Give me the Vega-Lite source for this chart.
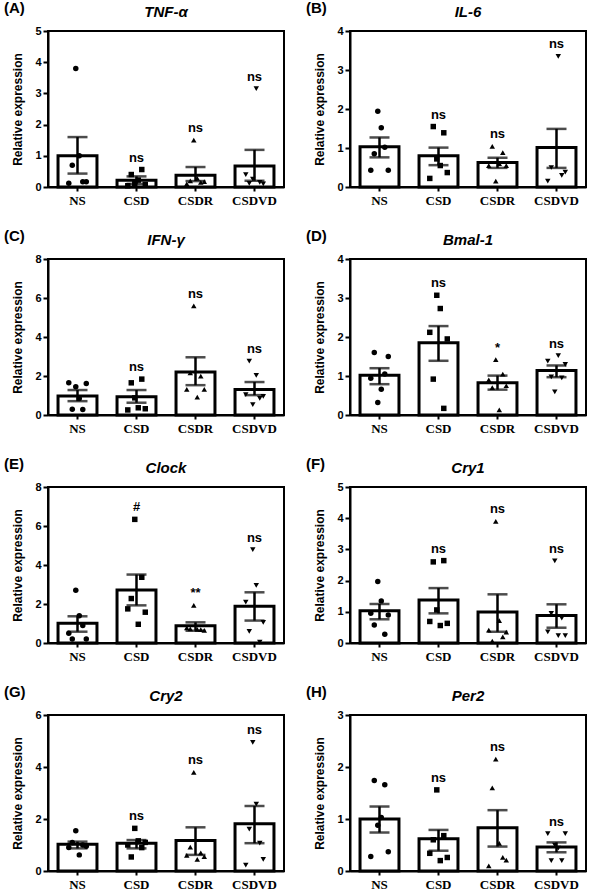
{
"$schema": "https://vega.github.io/schema/vega-lite/v6.json",
"padding": {"left": 3, "top": 1, "right": 0, "bottom": 0},
"columns": 2,
"spacing": {"row": 21, "column": 20},
"datasets": {
"bars": [
{"gene":"TNF-α","group":"NS","mean":1.0,"lo":0.43,"hi":1.6},
{"gene":"TNF-α","group":"CSD","mean":0.22,"lo":0.1,"hi":0.34},
{"gene":"TNF-α","group":"CSDR","mean":0.38,"lo":0.19,"hi":0.64},
{"gene":"TNF-α","group":"CSDVD","mean":0.67,"lo":0.2,"hi":1.19},
{"gene":"IL-6","group":"NS","mean":1.03,"lo":0.76,"hi":1.27},
{"gene":"IL-6","group":"CSD","mean":0.8,"lo":0.56,"hi":1.01},
{"gene":"IL-6","group":"CSDR","mean":0.63,"lo":0.49,"hi":0.75},
{"gene":"IL-6","group":"CSDVD","mean":1.01,"lo":0.49,"hi":1.49},
{"gene":"IFN-γ","group":"NS","mean":0.97,"lo":0.71,"hi":1.28},
{"gene":"IFN-γ","group":"CSD","mean":0.94,"lo":0.63,"hi":1.28},
{"gene":"IFN-γ","group":"CSDR","mean":2.21,"lo":1.53,"hi":2.96},
{"gene":"IFN-γ","group":"CSDVD","mean":1.31,"lo":1.02,"hi":1.69},
{"gene":"Bmal-1","group":"NS","mean":1.02,"lo":0.79,"hi":1.2},
{"gene":"Bmal-1","group":"CSD","mean":1.85,"lo":1.39,"hi":2.28},
{"gene":"Bmal-1","group":"CSDR","mean":0.83,"lo":0.65,"hi":1.01},
{"gene":"Bmal-1","group":"CSDVD","mean":1.14,"lo":0.97,"hi":1.27},
{"gene":"Clock","group":"NS","mean":1.01,"lo":0.58,"hi":1.37},
{"gene":"Clock","group":"CSD","mean":2.72,"lo":1.93,"hi":3.51},
{"gene":"Clock","group":"CSDR","mean":0.89,"lo":0.63,"hi":1.06},
{"gene":"Clock","group":"CSDVD","mean":1.88,"lo":1.15,"hi":2.6},
{"gene":"Cry1","group":"NS","mean":1.03,"lo":0.76,"hi":1.25},
{"gene":"Cry1","group":"CSD","mean":1.38,"lo":0.95,"hi":1.76},
{"gene":"Cry1","group":"CSDR","mean":0.99,"lo":0.36,"hi":1.56},
{"gene":"Cry1","group":"CSDVD","mean":0.88,"lo":0.49,"hi":1.24},
{"gene":"Cry2","group":"NS","mean":1.03,"lo":0.87,"hi":1.13},
{"gene":"Cry2","group":"CSD","mean":1.07,"lo":0.87,"hi":1.19},
{"gene":"Cry2","group":"CSDR","mean":1.17,"lo":0.62,"hi":1.68},
{"gene":"Cry2","group":"CSDVD","mean":1.82,"lo":1.07,"hi":2.5},
{"gene":"Per2","group":"NS","mean":1.0,"lo":0.74,"hi":1.24},
{"gene":"Per2","group":"CSD","mean":0.62,"lo":0.39,"hi":0.79},
{"gene":"Per2","group":"CSDR","mean":0.83,"lo":0.47,"hi":1.17},
{"gene":"Per2","group":"CSDVD","mean":0.46,"lo":0.36,"hi":0.55}
],
"points": [
{"gene":"TNF-α","group":"NS","rep":1,"value":0.12},{"gene":"TNF-α","group":"NS","rep":2,"value":0.7},{"gene":"TNF-α","group":"NS","rep":3,"value":3.8},{"gene":"TNF-α","group":"NS","rep":4,"value":1.0},{"gene":"TNF-α","group":"NS","rep":5,"value":0.17},{"gene":"TNF-α","group":"NS","rep":6,"value":0.17},
{"gene":"TNF-α","group":"CSD","rep":1,"value":0.04},{"gene":"TNF-α","group":"CSD","rep":2,"value":0.4},{"gene":"TNF-α","group":"CSD","rep":3,"value":0.12},{"gene":"TNF-α","group":"CSD","rep":4,"value":0.22},{"gene":"TNF-α","group":"CSD","rep":5,"value":0.56},{"gene":"TNF-α","group":"CSD","rep":6,"value":0.08},
{"gene":"TNF-α","group":"CSDR","rep":1,"value":0.1},{"gene":"TNF-α","group":"CSDR","rep":2,"value":0.2},{"gene":"TNF-α","group":"CSDR","rep":3,"value":1.5},{"gene":"TNF-α","group":"CSDR","rep":4,"value":0.28},{"gene":"TNF-α","group":"CSDR","rep":5,"value":0.15},{"gene":"TNF-α","group":"CSDR","rep":6,"value":0.17},
{"gene":"TNF-α","group":"CSDVD","rep":1,"value":0.4},{"gene":"TNF-α","group":"CSDVD","rep":2,"value":0.12},{"gene":"TNF-α","group":"CSDVD","rep":3,"value":0.25},{"gene":"TNF-α","group":"CSDVD","rep":4,"value":3.15},{"gene":"TNF-α","group":"CSDVD","rep":5,"value":0.15},{"gene":"TNF-α","group":"CSDVD","rep":6,"value":0.1},
{"gene":"IL-6","group":"NS","rep":1,"value":0.43},{"gene":"IL-6","group":"NS","rep":2,"value":0.85},{"gene":"IL-6","group":"NS","rep":3,"value":1.94},{"gene":"IL-6","group":"NS","rep":4,"value":1.52},{"gene":"IL-6","group":"NS","rep":5,"value":1.02},{"gene":"IL-6","group":"NS","rep":6,"value":0.43},
{"gene":"IL-6","group":"CSD","rep":1,"value":0.22},{"gene":"IL-6","group":"CSD","rep":2,"value":1.55},{"gene":"IL-6","group":"CSD","rep":3,"value":0.72},{"gene":"IL-6","group":"CSD","rep":4,"value":0.55},{"gene":"IL-6","group":"CSD","rep":5,"value":1.39},{"gene":"IL-6","group":"CSD","rep":6,"value":0.37},
{"gene":"IL-6","group":"CSDR","rep":1,"value":0.55},{"gene":"IL-6","group":"CSDR","rep":2,"value":1.04},{"gene":"IL-6","group":"CSDR","rep":3,"value":0.15},{"gene":"IL-6","group":"CSDR","rep":4,"value":0.6},{"gene":"IL-6","group":"CSDR","rep":5,"value":0.88},{"gene":"IL-6","group":"CSDR","rep":6,"value":0.55},
{"gene":"IL-6","group":"CSDVD","rep":1,"value":0.15},{"gene":"IL-6","group":"CSDVD","rep":2,"value":0.5},{"gene":"IL-6","group":"CSDVD","rep":4,"value":3.35},{"gene":"IL-6","group":"CSDVD","rep":5,"value":0.3},{"gene":"IL-6","group":"CSDVD","rep":6,"value":0.38},
{"gene":"IFN-γ","group":"NS","rep":1,"value":1.65},{"gene":"IFN-γ","group":"NS","rep":2,"value":0.3},{"gene":"IFN-γ","group":"NS","rep":3,"value":1.45},{"gene":"IFN-γ","group":"NS","rep":4,"value":0.85},{"gene":"IFN-γ","group":"NS","rep":5,"value":0.28},{"gene":"IFN-γ","group":"NS","rep":6,"value":1.62},
{"gene":"IFN-γ","group":"CSD","rep":1,"value":0.26},{"gene":"IFN-γ","group":"CSD","rep":2,"value":1.65},{"gene":"IFN-γ","group":"CSD","rep":3,"value":0.88},{"gene":"IFN-γ","group":"CSD","rep":4,"value":0.37},{"gene":"IFN-γ","group":"CSD","rep":5,"value":1.84},{"gene":"IFN-γ","group":"CSD","rep":6,"value":0.32},
{"gene":"IFN-γ","group":"CSDR","rep":1,"value":1.31},{"gene":"IFN-γ","group":"CSDR","rep":2,"value":2.16},{"gene":"IFN-γ","group":"CSDR","rep":3,"value":5.6},{"gene":"IFN-γ","group":"CSDR","rep":4,"value":0.92},{"gene":"IFN-γ","group":"CSDR","rep":5,"value":1.99},{"gene":"IFN-γ","group":"CSDR","rep":6,"value":1.31},
{"gene":"IFN-γ","group":"CSDVD","rep":1,"value":1.05},{"gene":"IFN-γ","group":"CSDVD","rep":2,"value":2.76},{"gene":"IFN-γ","group":"CSDVD","rep":3,"value":0.53},{"gene":"IFN-γ","group":"CSDVD","rep":4,"value":2.03},{"gene":"IFN-γ","group":"CSDVD","rep":5,"value":0.85},{"gene":"IFN-γ","group":"CSDVD","rep":6,"value":0.95},
{"gene":"Bmal-1","group":"NS","rep":1,"value":0.94},{"gene":"Bmal-1","group":"NS","rep":2,"value":1.6},{"gene":"Bmal-1","group":"NS","rep":3,"value":0.32},{"gene":"Bmal-1","group":"NS","rep":4,"value":0.66},{"gene":"Bmal-1","group":"NS","rep":5,"value":1.05},{"gene":"Bmal-1","group":"NS","rep":6,"value":1.5},
{"gene":"Bmal-1","group":"CSD","rep":1,"value":2.12},{"gene":"Bmal-1","group":"CSD","rep":2,"value":0.92},{"gene":"Bmal-1","group":"CSD","rep":3,"value":3.07},{"gene":"Bmal-1","group":"CSD","rep":4,"value":2.73},{"gene":"Bmal-1","group":"CSD","rep":5,"value":0.17},{"gene":"Bmal-1","group":"CSD","rep":6,"value":1.95},
{"gene":"Bmal-1","group":"CSDR","rep":1,"value":0.9},{"gene":"Bmal-1","group":"CSDR","rep":2,"value":0.7},{"gene":"Bmal-1","group":"CSDR","rep":3,"value":1.42},{"gene":"Bmal-1","group":"CSDR","rep":4,"value":0.13},{"gene":"Bmal-1","group":"CSDR","rep":5,"value":1.05},{"gene":"Bmal-1","group":"CSDR","rep":6,"value":0.75},
{"gene":"Bmal-1","group":"CSDVD","rep":1,"value":1.38},{"gene":"Bmal-1","group":"CSDVD","rep":2,"value":0.98},{"gene":"Bmal-1","group":"CSDVD","rep":3,"value":0.59},{"gene":"Bmal-1","group":"CSDVD","rep":4,"value":1.52},{"gene":"Bmal-1","group":"CSDVD","rep":5,"value":0.95},{"gene":"Bmal-1","group":"CSDVD","rep":6,"value":1.3},
{"gene":"Clock","group":"NS","rep":1,"value":0.5},{"gene":"Clock","group":"NS","rep":2,"value":0.2},{"gene":"Clock","group":"NS","rep":3,"value":2.7},{"gene":"Clock","group":"NS","rep":4,"value":1.4},{"gene":"Clock","group":"NS","rep":5,"value":0.9},{"gene":"Clock","group":"NS","rep":6,"value":0.2},
{"gene":"Clock","group":"CSD","rep":1,"value":1.75},{"gene":"Clock","group":"CSD","rep":2,"value":2.28},{"gene":"Clock","group":"CSD","rep":3,"value":6.34},{"gene":"Clock","group":"CSD","rep":4,"value":0.96},{"gene":"Clock","group":"CSD","rep":5,"value":3.37},{"gene":"Clock","group":"CSD","rep":6,"value":1.58},
{"gene":"Clock","group":"CSDR","rep":1,"value":0.78},{"gene":"Clock","group":"CSDR","rep":2,"value":0.72},{"gene":"Clock","group":"CSDR","rep":3,"value":1.93},{"gene":"Clock","group":"CSDR","rep":4,"value":0.7},{"gene":"Clock","group":"CSDR","rep":5,"value":0.68},{"gene":"Clock","group":"CSDR","rep":6,"value":0.65},
{"gene":"Clock","group":"CSDVD","rep":1,"value":2.09},{"gene":"Clock","group":"CSDVD","rep":2,"value":0.6},{"gene":"Clock","group":"CSDVD","rep":3,"value":4.79},{"gene":"Clock","group":"CSDVD","rep":4,"value":2.95},{"gene":"Clock","group":"CSDVD","rep":5,"value":0.05},{"gene":"Clock","group":"CSDVD","rep":6,"value":1.06},
{"gene":"Cry1","group":"NS","rep":1,"value":0.95},{"gene":"Cry1","group":"NS","rep":2,"value":0.58},{"gene":"Cry1","group":"NS","rep":3,"value":1.97},{"gene":"Cry1","group":"NS","rep":4,"value":1.35},{"gene":"Cry1","group":"NS","rep":5,"value":0.28},{"gene":"Cry1","group":"NS","rep":6,"value":0.9},
{"gene":"Cry1","group":"CSD","rep":1,"value":0.69},{"gene":"Cry1","group":"CSD","rep":2,"value":2.6},{"gene":"Cry1","group":"CSD","rep":3,"value":1.06},{"gene":"Cry1","group":"CSD","rep":4,"value":0.56},{"gene":"Cry1","group":"CSD","rep":5,"value":2.64},{"gene":"Cry1","group":"CSD","rep":6,"value":0.63},
{"gene":"Cry1","group":"CSDR","rep":1,"value":0.41},{"gene":"Cry1","group":"CSDR","rep":2,"value":0.06},{"gene":"Cry1","group":"CSDR","rep":3,"value":3.9},{"gene":"Cry1","group":"CSDR","rep":4,"value":0.72},{"gene":"Cry1","group":"CSDR","rep":5,"value":0.2},{"gene":"Cry1","group":"CSDR","rep":6,"value":0.35},
{"gene":"Cry1","group":"CSDVD","rep":1,"value":0.36},{"gene":"Cry1","group":"CSDVD","rep":2,"value":0.95},{"gene":"Cry1","group":"CSDVD","rep":3,"value":2.63},{"gene":"Cry1","group":"CSDVD","rep":4,"value":0.24},{"gene":"Cry1","group":"CSDVD","rep":5,"value":0.8},{"gene":"Cry1","group":"CSDVD","rep":6,"value":0.24},
{"gene":"Cry2","group":"NS","rep":1,"value":0.9},{"gene":"Cry2","group":"NS","rep":2,"value":1.1},{"gene":"Cry2","group":"NS","rep":3,"value":1.55},{"gene":"Cry2","group":"NS","rep":4,"value":0.62},{"gene":"Cry2","group":"NS","rep":5,"value":1.0},{"gene":"Cry2","group":"NS","rep":6,"value":0.95},
{"gene":"Cry2","group":"CSD","rep":1,"value":1.0},{"gene":"Cry2","group":"CSD","rep":2,"value":0.54},{"gene":"Cry2","group":"CSD","rep":3,"value":1.64},{"gene":"Cry2","group":"CSD","rep":4,"value":1.16},{"gene":"Cry2","group":"CSD","rep":5,"value":0.9},{"gene":"Cry2","group":"CSD","rep":6,"value":1.1},
{"gene":"Cry2","group":"CSDR","rep":1,"value":0.6},{"gene":"Cry2","group":"CSDR","rep":2,"value":0.92},{"gene":"Cry2","group":"CSDR","rep":3,"value":3.79},{"gene":"Cry2","group":"CSDR","rep":4,"value":0.45},{"gene":"Cry2","group":"CSDR","rep":5,"value":0.7},{"gene":"Cry2","group":"CSDR","rep":6,"value":0.55},
{"gene":"Cry2","group":"CSDVD","rep":1,"value":0.23},{"gene":"Cry2","group":"CSDVD","rep":2,"value":1.61},{"gene":"Cry2","group":"CSDVD","rep":3,"value":4.95},{"gene":"Cry2","group":"CSDVD","rep":4,"value":2.57},{"gene":"Cry2","group":"CSDVD","rep":5,"value":1.07},{"gene":"Cry2","group":"CSDVD","rep":6,"value":0.45},
{"gene":"Per2","group":"NS","rep":1,"value":0.28},{"gene":"Per2","group":"NS","rep":2,"value":1.74},{"gene":"Per2","group":"NS","rep":3,"value":0.88},{"gene":"Per2","group":"NS","rep":4,"value":1.03},{"gene":"Per2","group":"NS","rep":5,"value":1.66},{"gene":"Per2","group":"NS","rep":6,"value":0.37},
{"gene":"Per2","group":"CSD","rep":1,"value":0.34},{"gene":"Per2","group":"CSD","rep":2,"value":0.6},{"gene":"Per2","group":"CSD","rep":3,"value":1.56},{"gene":"Per2","group":"CSD","rep":4,"value":0.2},{"gene":"Per2","group":"CSD","rep":5,"value":0.68},{"gene":"Per2","group":"CSD","rep":6,"value":0.26},
{"gene":"Per2","group":"CSDR","rep":1,"value":0.1},{"gene":"Per2","group":"CSDR","rep":2,"value":1.6},{"gene":"Per2","group":"CSDR","rep":3,"value":2.15},{"gene":"Per2","group":"CSDR","rep":4,"value":0.53},{"gene":"Per2","group":"CSDR","rep":5,"value":0.26},{"gene":"Per2","group":"CSDR","rep":6,"value":0.21},
{"gene":"Per2","group":"CSDVD","rep":1,"value":0.72},{"gene":"Per2","group":"CSDVD","rep":2,"value":0.2},{"gene":"Per2","group":"CSDVD","rep":3,"value":0.5},{"gene":"Per2","group":"CSDVD","rep":4,"value":0.44},{"gene":"Per2","group":"CSDVD","rep":5,"value":0.2},{"gene":"Per2","group":"CSDVD","rep":6,"value":0.72}
],
"annot": [
{"key":"TNF-α|CSD","label":"ns"},{"key":"TNF-α|CSDR","label":"ns"},{"key":"TNF-α|CSDVD","label":"ns"},
{"key":"IL-6|CSD","label":"ns"},{"key":"IL-6|CSDR","label":"ns"},{"key":"IL-6|CSDVD","label":"ns"},
{"key":"IFN-γ|CSD","label":"ns"},{"key":"IFN-γ|CSDR","label":"ns"},{"key":"IFN-γ|CSDVD","label":"ns"},
{"key":"Bmal-1|CSD","label":"ns"},{"key":"Bmal-1|CSDR","label":"*"},{"key":"Bmal-1|CSDVD","label":"ns"},
{"key":"Clock|CSD","label":"#"},{"key":"Clock|CSDR","label":"**"},{"key":"Clock|CSDVD","label":"ns"},
{"key":"Cry1|CSD","label":"ns"},{"key":"Cry1|CSDR","label":"ns"},{"key":"Cry1|CSDVD","label":"ns"},
{"key":"Cry2|CSD","label":"ns"},{"key":"Cry2|CSDR","label":"ns"},{"key":"Cry2|CSDVD","label":"ns"},
{"key":"Per2|CSD","label":"ns"},{"key":"Per2|CSDR","label":"ns"},{"key":"Per2|CSDVD","label":"ns"}
]
},
"concat": [
{"title":{"text":"(A)","anchor":"start","frame":"bounds","fontSize":15,"fontWeight":"bold","offset":-12,"dx":-7},"vconcat":[{"width":236,"height":156,"title":{"text":"TNF-α","fontStyle":"italic","fontWeight":"bold","fontSize":15,"frame":"group","anchor":"middle","offset":5},
"resolve":{"scale":{"xOffset":"independent"}},
"layer":[
{"data":{"name":"bars"},"transform":[{"filter":"datum.gene === 'TNF-α'"}],"mark":{"type":"bar","fill":"white","stroke":"black","strokeWidth":3},"encoding":{"x":{"field":"group","type":"nominal","sort":["NS","CSD","CSDR","CSDVD"],"scale":{"type":"band","paddingInner":0.34,"paddingOuter":0.17},"title":null},"y":{"field":"mean","type":"quantitative","scale":{"domain":[0,5],"nice":false},"axis":{"values":[0,1,2,3,4,5]},"title":"Relative expression"}}},
{"data":{"name":"bars"},"transform":[{"filter":"datum.gene === 'TNF-α'"}],"mark":{"type":"errorbar","ticks":{"size":20},"thickness":2.5,"color":"black"},"encoding":{"x":{"field":"group","type":"nominal","sort":["NS","CSD","CSDR","CSDVD"],"scale":{"type":"band","paddingInner":0.34,"paddingOuter":0.17},"title":null},"y":{"field":"lo","type":"quantitative","axis":{"values":[0,1,2,3,4,5]},"title":"Relative expression"},"y2":{"field":"hi"}}},
{"data":{"name":"points"},"transform":[{"filter":"datum.gene === 'TNF-α'"}],"mark":{"type":"point","filled":true,"size":30,"color":"black","opacity":1},"encoding":{"x":{"field":"group","type":"nominal","sort":["NS","CSD","CSDR","CSDVD"],"scale":{"type":"band","paddingInner":0.34,"paddingOuter":0.17},"title":null},"xOffset":{"field":"rep","type":"ordinal","scale":{"domain":[1,2,3,4,5,6],"range":[9,30]}},"y":{"field":"value","type":"quantitative","axis":{"values":[0,1,2,3,4,5]},"title":"Relative expression"},"shape":{"field":"group","type":"nominal","scale":{"domain":["NS","CSD","CSDR","CSDVD"],"range":["circle","square","triangle-up","triangle-down"]},"legend":null}}},
{"data":{"name":"points"},"transform":[{"filter":"datum.gene === 'TNF-α'"},{"aggregate":[{"op":"max","field":"value","as":"ymax"}],"groupby":["gene","group"]},{"calculate":"datum.gene + '|' + datum.group","as":"key"},{"lookup":"key","from":{"data":{"name":"annot"},"key":"key","fields":["label"]}},{"filter":"isValid(datum.label)"}],"mark":{"type":"text","fontWeight":"bold","fontSize":13,"dy":-8,"baseline":"alphabetic","color":"black"},"encoding":{"x":{"field":"group","type":"nominal","sort":["NS","CSD","CSDR","CSDVD"],"scale":{"type":"band","paddingInner":0.34,"paddingOuter":0.17},"title":null},"y":{"field":"ymax","type":"quantitative","axis":{"values":[0,1,2,3,4,5]},"title":"Relative expression"},"text":{"field":"label","type":"nominal"}}}
]}]},
{"title":{"text":"(B)","anchor":"start","frame":"bounds","fontSize":15,"fontWeight":"bold","offset":-12,"dx":-7},"vconcat":[{"width":236,"height":156,"title":{"text":"IL-6","fontStyle":"italic","fontWeight":"bold","fontSize":15,"frame":"group","anchor":"middle","offset":5},
"resolve":{"scale":{"xOffset":"independent"}},
"layer":[
{"data":{"name":"bars"},"transform":[{"filter":"datum.gene === 'IL-6'"}],"mark":{"type":"bar","fill":"white","stroke":"black","strokeWidth":3},"encoding":{"x":{"field":"group","type":"nominal","sort":["NS","CSD","CSDR","CSDVD"],"scale":{"type":"band","paddingInner":0.34,"paddingOuter":0.17},"title":null},"y":{"field":"mean","type":"quantitative","scale":{"domain":[0,4],"nice":false},"axis":{"values":[0,1,2,3,4]},"title":"Relative expression"}}},
{"data":{"name":"bars"},"transform":[{"filter":"datum.gene === 'IL-6'"}],"mark":{"type":"errorbar","ticks":{"size":20},"thickness":2.5,"color":"black"},"encoding":{"x":{"field":"group","type":"nominal","sort":["NS","CSD","CSDR","CSDVD"],"scale":{"type":"band","paddingInner":0.34,"paddingOuter":0.17},"title":null},"y":{"field":"lo","type":"quantitative","axis":{"values":[0,1,2,3,4]},"title":"Relative expression"},"y2":{"field":"hi"}}},
{"data":{"name":"points"},"transform":[{"filter":"datum.gene === 'IL-6'"}],"mark":{"type":"point","filled":true,"size":30,"color":"black","opacity":1},"encoding":{"x":{"field":"group","type":"nominal","sort":["NS","CSD","CSDR","CSDVD"],"scale":{"type":"band","paddingInner":0.34,"paddingOuter":0.17},"title":null},"xOffset":{"field":"rep","type":"ordinal","scale":{"domain":[1,2,3,4,5,6],"range":[9,30]}},"y":{"field":"value","type":"quantitative","axis":{"values":[0,1,2,3,4]},"title":"Relative expression"},"shape":{"field":"group","type":"nominal","scale":{"domain":["NS","CSD","CSDR","CSDVD"],"range":["circle","square","triangle-up","triangle-down"]},"legend":null}}},
{"data":{"name":"points"},"transform":[{"filter":"datum.gene === 'IL-6'"},{"aggregate":[{"op":"max","field":"value","as":"ymax"}],"groupby":["gene","group"]},{"calculate":"datum.gene + '|' + datum.group","as":"key"},{"lookup":"key","from":{"data":{"name":"annot"},"key":"key","fields":["label"]}},{"filter":"isValid(datum.label)"}],"mark":{"type":"text","fontWeight":"bold","fontSize":13,"dy":-8,"baseline":"alphabetic","color":"black"},"encoding":{"x":{"field":"group","type":"nominal","sort":["NS","CSD","CSDR","CSDVD"],"scale":{"type":"band","paddingInner":0.34,"paddingOuter":0.17},"title":null},"y":{"field":"ymax","type":"quantitative","axis":{"values":[0,1,2,3,4]},"title":"Relative expression"},"text":{"field":"label","type":"nominal"}}}
]}]},
{"title":{"text":"(C)","anchor":"start","frame":"bounds","fontSize":15,"fontWeight":"bold","offset":-12,"dx":-7},"vconcat":[{"width":236,"height":156,"title":{"text":"IFN-γ","fontStyle":"italic","fontWeight":"bold","fontSize":15,"frame":"group","anchor":"middle","offset":5},
"resolve":{"scale":{"xOffset":"independent"}},
"layer":[
{"data":{"name":"bars"},"transform":[{"filter":"datum.gene === 'IFN-γ'"}],"mark":{"type":"bar","fill":"white","stroke":"black","strokeWidth":3},"encoding":{"x":{"field":"group","type":"nominal","sort":["NS","CSD","CSDR","CSDVD"],"scale":{"type":"band","paddingInner":0.34,"paddingOuter":0.17},"title":null},"y":{"field":"mean","type":"quantitative","scale":{"domain":[0,8],"nice":false},"axis":{"values":[0,2,4,6,8]},"title":"Relative expression"}}},
{"data":{"name":"bars"},"transform":[{"filter":"datum.gene === 'IFN-γ'"}],"mark":{"type":"errorbar","ticks":{"size":20},"thickness":2.5,"color":"black"},"encoding":{"x":{"field":"group","type":"nominal","sort":["NS","CSD","CSDR","CSDVD"],"scale":{"type":"band","paddingInner":0.34,"paddingOuter":0.17},"title":null},"y":{"field":"lo","type":"quantitative","axis":{"values":[0,2,4,6,8]},"title":"Relative expression"},"y2":{"field":"hi"}}},
{"data":{"name":"points"},"transform":[{"filter":"datum.gene === 'IFN-γ'"}],"mark":{"type":"point","filled":true,"size":30,"color":"black","opacity":1},"encoding":{"x":{"field":"group","type":"nominal","sort":["NS","CSD","CSDR","CSDVD"],"scale":{"type":"band","paddingInner":0.34,"paddingOuter":0.17},"title":null},"xOffset":{"field":"rep","type":"ordinal","scale":{"domain":[1,2,3,4,5,6],"range":[9,30]}},"y":{"field":"value","type":"quantitative","axis":{"values":[0,2,4,6,8]},"title":"Relative expression"},"shape":{"field":"group","type":"nominal","scale":{"domain":["NS","CSD","CSDR","CSDVD"],"range":["circle","square","triangle-up","triangle-down"]},"legend":null}}},
{"data":{"name":"points"},"transform":[{"filter":"datum.gene === 'IFN-γ'"},{"aggregate":[{"op":"max","field":"value","as":"ymax"}],"groupby":["gene","group"]},{"calculate":"datum.gene + '|' + datum.group","as":"key"},{"lookup":"key","from":{"data":{"name":"annot"},"key":"key","fields":["label"]}},{"filter":"isValid(datum.label)"}],"mark":{"type":"text","fontWeight":"bold","fontSize":13,"dy":-8,"baseline":"alphabetic","color":"black"},"encoding":{"x":{"field":"group","type":"nominal","sort":["NS","CSD","CSDR","CSDVD"],"scale":{"type":"band","paddingInner":0.34,"paddingOuter":0.17},"title":null},"y":{"field":"ymax","type":"quantitative","axis":{"values":[0,2,4,6,8]},"title":"Relative expression"},"text":{"field":"label","type":"nominal"}}}
]}]},
{"title":{"text":"(D)","anchor":"start","frame":"bounds","fontSize":15,"fontWeight":"bold","offset":-12,"dx":-7},"vconcat":[{"width":236,"height":156,"title":{"text":"Bmal-1","fontStyle":"italic","fontWeight":"bold","fontSize":15,"frame":"group","anchor":"middle","offset":5},
"resolve":{"scale":{"xOffset":"independent"}},
"layer":[
{"data":{"name":"bars"},"transform":[{"filter":"datum.gene === 'Bmal-1'"}],"mark":{"type":"bar","fill":"white","stroke":"black","strokeWidth":3},"encoding":{"x":{"field":"group","type":"nominal","sort":["NS","CSD","CSDR","CSDVD"],"scale":{"type":"band","paddingInner":0.34,"paddingOuter":0.17},"title":null},"y":{"field":"mean","type":"quantitative","scale":{"domain":[0,4],"nice":false},"axis":{"values":[0,1,2,3,4]},"title":"Relative expression"}}},
{"data":{"name":"bars"},"transform":[{"filter":"datum.gene === 'Bmal-1'"}],"mark":{"type":"errorbar","ticks":{"size":20},"thickness":2.5,"color":"black"},"encoding":{"x":{"field":"group","type":"nominal","sort":["NS","CSD","CSDR","CSDVD"],"scale":{"type":"band","paddingInner":0.34,"paddingOuter":0.17},"title":null},"y":{"field":"lo","type":"quantitative","axis":{"values":[0,1,2,3,4]},"title":"Relative expression"},"y2":{"field":"hi"}}},
{"data":{"name":"points"},"transform":[{"filter":"datum.gene === 'Bmal-1'"}],"mark":{"type":"point","filled":true,"size":30,"color":"black","opacity":1},"encoding":{"x":{"field":"group","type":"nominal","sort":["NS","CSD","CSDR","CSDVD"],"scale":{"type":"band","paddingInner":0.34,"paddingOuter":0.17},"title":null},"xOffset":{"field":"rep","type":"ordinal","scale":{"domain":[1,2,3,4,5,6],"range":[9,30]}},"y":{"field":"value","type":"quantitative","axis":{"values":[0,1,2,3,4]},"title":"Relative expression"},"shape":{"field":"group","type":"nominal","scale":{"domain":["NS","CSD","CSDR","CSDVD"],"range":["circle","square","triangle-up","triangle-down"]},"legend":null}}},
{"data":{"name":"points"},"transform":[{"filter":"datum.gene === 'Bmal-1'"},{"aggregate":[{"op":"max","field":"value","as":"ymax"}],"groupby":["gene","group"]},{"calculate":"datum.gene + '|' + datum.group","as":"key"},{"lookup":"key","from":{"data":{"name":"annot"},"key":"key","fields":["label"]}},{"filter":"isValid(datum.label)"}],"mark":{"type":"text","fontWeight":"bold","fontSize":13,"dy":-8,"baseline":"alphabetic","color":"black"},"encoding":{"x":{"field":"group","type":"nominal","sort":["NS","CSD","CSDR","CSDVD"],"scale":{"type":"band","paddingInner":0.34,"paddingOuter":0.17},"title":null},"y":{"field":"ymax","type":"quantitative","axis":{"values":[0,1,2,3,4]},"title":"Relative expression"},"text":{"field":"label","type":"nominal"}}}
]}]},
{"title":{"text":"(E)","anchor":"start","frame":"bounds","fontSize":15,"fontWeight":"bold","offset":-12,"dx":-7},"vconcat":[{"width":236,"height":156,"title":{"text":"Clock","fontStyle":"italic","fontWeight":"bold","fontSize":15,"frame":"group","anchor":"middle","offset":5},
"resolve":{"scale":{"xOffset":"independent"}},
"layer":[
{"data":{"name":"bars"},"transform":[{"filter":"datum.gene === 'Clock'"}],"mark":{"type":"bar","fill":"white","stroke":"black","strokeWidth":3},"encoding":{"x":{"field":"group","type":"nominal","sort":["NS","CSD","CSDR","CSDVD"],"scale":{"type":"band","paddingInner":0.34,"paddingOuter":0.17},"title":null},"y":{"field":"mean","type":"quantitative","scale":{"domain":[0,8],"nice":false},"axis":{"values":[0,2,4,6,8]},"title":"Relative expression"}}},
{"data":{"name":"bars"},"transform":[{"filter":"datum.gene === 'Clock'"}],"mark":{"type":"errorbar","ticks":{"size":20},"thickness":2.5,"color":"black"},"encoding":{"x":{"field":"group","type":"nominal","sort":["NS","CSD","CSDR","CSDVD"],"scale":{"type":"band","paddingInner":0.34,"paddingOuter":0.17},"title":null},"y":{"field":"lo","type":"quantitative","axis":{"values":[0,2,4,6,8]},"title":"Relative expression"},"y2":{"field":"hi"}}},
{"data":{"name":"points"},"transform":[{"filter":"datum.gene === 'Clock'"}],"mark":{"type":"point","filled":true,"size":30,"color":"black","opacity":1},"encoding":{"x":{"field":"group","type":"nominal","sort":["NS","CSD","CSDR","CSDVD"],"scale":{"type":"band","paddingInner":0.34,"paddingOuter":0.17},"title":null},"xOffset":{"field":"rep","type":"ordinal","scale":{"domain":[1,2,3,4,5,6],"range":[9,30]}},"y":{"field":"value","type":"quantitative","axis":{"values":[0,2,4,6,8]},"title":"Relative expression"},"shape":{"field":"group","type":"nominal","scale":{"domain":["NS","CSD","CSDR","CSDVD"],"range":["circle","square","triangle-up","triangle-down"]},"legend":null}}},
{"data":{"name":"points"},"transform":[{"filter":"datum.gene === 'Clock'"},{"aggregate":[{"op":"max","field":"value","as":"ymax"}],"groupby":["gene","group"]},{"calculate":"datum.gene + '|' + datum.group","as":"key"},{"lookup":"key","from":{"data":{"name":"annot"},"key":"key","fields":["label"]}},{"filter":"isValid(datum.label)"}],"mark":{"type":"text","fontWeight":"bold","fontSize":13,"dy":-8,"baseline":"alphabetic","color":"black"},"encoding":{"x":{"field":"group","type":"nominal","sort":["NS","CSD","CSDR","CSDVD"],"scale":{"type":"band","paddingInner":0.34,"paddingOuter":0.17},"title":null},"y":{"field":"ymax","type":"quantitative","axis":{"values":[0,2,4,6,8]},"title":"Relative expression"},"text":{"field":"label","type":"nominal"}}}
]}]},
{"title":{"text":"(F)","anchor":"start","frame":"bounds","fontSize":15,"fontWeight":"bold","offset":-12,"dx":-7},"vconcat":[{"width":236,"height":156,"title":{"text":"Cry1","fontStyle":"italic","fontWeight":"bold","fontSize":15,"frame":"group","anchor":"middle","offset":5},
"resolve":{"scale":{"xOffset":"independent"}},
"layer":[
{"data":{"name":"bars"},"transform":[{"filter":"datum.gene === 'Cry1'"}],"mark":{"type":"bar","fill":"white","stroke":"black","strokeWidth":3},"encoding":{"x":{"field":"group","type":"nominal","sort":["NS","CSD","CSDR","CSDVD"],"scale":{"type":"band","paddingInner":0.34,"paddingOuter":0.17},"title":null},"y":{"field":"mean","type":"quantitative","scale":{"domain":[0,5],"nice":false},"axis":{"values":[0,1,2,3,4,5]},"title":"Relative expression"}}},
{"data":{"name":"bars"},"transform":[{"filter":"datum.gene === 'Cry1'"}],"mark":{"type":"errorbar","ticks":{"size":20},"thickness":2.5,"color":"black"},"encoding":{"x":{"field":"group","type":"nominal","sort":["NS","CSD","CSDR","CSDVD"],"scale":{"type":"band","paddingInner":0.34,"paddingOuter":0.17},"title":null},"y":{"field":"lo","type":"quantitative","axis":{"values":[0,1,2,3,4,5]},"title":"Relative expression"},"y2":{"field":"hi"}}},
{"data":{"name":"points"},"transform":[{"filter":"datum.gene === 'Cry1'"}],"mark":{"type":"point","filled":true,"size":30,"color":"black","opacity":1},"encoding":{"x":{"field":"group","type":"nominal","sort":["NS","CSD","CSDR","CSDVD"],"scale":{"type":"band","paddingInner":0.34,"paddingOuter":0.17},"title":null},"xOffset":{"field":"rep","type":"ordinal","scale":{"domain":[1,2,3,4,5,6],"range":[9,30]}},"y":{"field":"value","type":"quantitative","axis":{"values":[0,1,2,3,4,5]},"title":"Relative expression"},"shape":{"field":"group","type":"nominal","scale":{"domain":["NS","CSD","CSDR","CSDVD"],"range":["circle","square","triangle-up","triangle-down"]},"legend":null}}},
{"data":{"name":"points"},"transform":[{"filter":"datum.gene === 'Cry1'"},{"aggregate":[{"op":"max","field":"value","as":"ymax"}],"groupby":["gene","group"]},{"calculate":"datum.gene + '|' + datum.group","as":"key"},{"lookup":"key","from":{"data":{"name":"annot"},"key":"key","fields":["label"]}},{"filter":"isValid(datum.label)"}],"mark":{"type":"text","fontWeight":"bold","fontSize":13,"dy":-8,"baseline":"alphabetic","color":"black"},"encoding":{"x":{"field":"group","type":"nominal","sort":["NS","CSD","CSDR","CSDVD"],"scale":{"type":"band","paddingInner":0.34,"paddingOuter":0.17},"title":null},"y":{"field":"ymax","type":"quantitative","axis":{"values":[0,1,2,3,4,5]},"title":"Relative expression"},"text":{"field":"label","type":"nominal"}}}
]}]},
{"title":{"text":"(G)","anchor":"start","frame":"bounds","fontSize":15,"fontWeight":"bold","offset":-12,"dx":-7},"vconcat":[{"width":236,"height":156,"title":{"text":"Cry2","fontStyle":"italic","fontWeight":"bold","fontSize":15,"frame":"group","anchor":"middle","offset":5},
"resolve":{"scale":{"xOffset":"independent"}},
"layer":[
{"data":{"name":"bars"},"transform":[{"filter":"datum.gene === 'Cry2'"}],"mark":{"type":"bar","fill":"white","stroke":"black","strokeWidth":3},"encoding":{"x":{"field":"group","type":"nominal","sort":["NS","CSD","CSDR","CSDVD"],"scale":{"type":"band","paddingInner":0.34,"paddingOuter":0.17},"title":null},"y":{"field":"mean","type":"quantitative","scale":{"domain":[0,6],"nice":false},"axis":{"values":[0,2,4,6]},"title":"Relative expression"}}},
{"data":{"name":"bars"},"transform":[{"filter":"datum.gene === 'Cry2'"}],"mark":{"type":"errorbar","ticks":{"size":20},"thickness":2.5,"color":"black"},"encoding":{"x":{"field":"group","type":"nominal","sort":["NS","CSD","CSDR","CSDVD"],"scale":{"type":"band","paddingInner":0.34,"paddingOuter":0.17},"title":null},"y":{"field":"lo","type":"quantitative","axis":{"values":[0,2,4,6]},"title":"Relative expression"},"y2":{"field":"hi"}}},
{"data":{"name":"points"},"transform":[{"filter":"datum.gene === 'Cry2'"}],"mark":{"type":"point","filled":true,"size":30,"color":"black","opacity":1},"encoding":{"x":{"field":"group","type":"nominal","sort":["NS","CSD","CSDR","CSDVD"],"scale":{"type":"band","paddingInner":0.34,"paddingOuter":0.17},"title":null},"xOffset":{"field":"rep","type":"ordinal","scale":{"domain":[1,2,3,4,5,6],"range":[9,30]}},"y":{"field":"value","type":"quantitative","axis":{"values":[0,2,4,6]},"title":"Relative expression"},"shape":{"field":"group","type":"nominal","scale":{"domain":["NS","CSD","CSDR","CSDVD"],"range":["circle","square","triangle-up","triangle-down"]},"legend":null}}},
{"data":{"name":"points"},"transform":[{"filter":"datum.gene === 'Cry2'"},{"aggregate":[{"op":"max","field":"value","as":"ymax"}],"groupby":["gene","group"]},{"calculate":"datum.gene + '|' + datum.group","as":"key"},{"lookup":"key","from":{"data":{"name":"annot"},"key":"key","fields":["label"]}},{"filter":"isValid(datum.label)"}],"mark":{"type":"text","fontWeight":"bold","fontSize":13,"dy":-8,"baseline":"alphabetic","color":"black"},"encoding":{"x":{"field":"group","type":"nominal","sort":["NS","CSD","CSDR","CSDVD"],"scale":{"type":"band","paddingInner":0.34,"paddingOuter":0.17},"title":null},"y":{"field":"ymax","type":"quantitative","axis":{"values":[0,2,4,6]},"title":"Relative expression"},"text":{"field":"label","type":"nominal"}}}
]}]},
{"title":{"text":"(H)","anchor":"start","frame":"bounds","fontSize":15,"fontWeight":"bold","offset":-12,"dx":-7},"vconcat":[{"width":236,"height":156,"title":{"text":"Per2","fontStyle":"italic","fontWeight":"bold","fontSize":15,"frame":"group","anchor":"middle","offset":5},
"resolve":{"scale":{"xOffset":"independent"}},
"layer":[
{"data":{"name":"bars"},"transform":[{"filter":"datum.gene === 'Per2'"}],"mark":{"type":"bar","fill":"white","stroke":"black","strokeWidth":3},"encoding":{"x":{"field":"group","type":"nominal","sort":["NS","CSD","CSDR","CSDVD"],"scale":{"type":"band","paddingInner":0.34,"paddingOuter":0.17},"title":null},"y":{"field":"mean","type":"quantitative","scale":{"domain":[0,3],"nice":false},"axis":{"values":[0,1,2,3]},"title":"Relative expression"}}},
{"data":{"name":"bars"},"transform":[{"filter":"datum.gene === 'Per2'"}],"mark":{"type":"errorbar","ticks":{"size":20},"thickness":2.5,"color":"black"},"encoding":{"x":{"field":"group","type":"nominal","sort":["NS","CSD","CSDR","CSDVD"],"scale":{"type":"band","paddingInner":0.34,"paddingOuter":0.17},"title":null},"y":{"field":"lo","type":"quantitative","axis":{"values":[0,1,2,3]},"title":"Relative expression"},"y2":{"field":"hi"}}},
{"data":{"name":"points"},"transform":[{"filter":"datum.gene === 'Per2'"}],"mark":{"type":"point","filled":true,"size":30,"color":"black","opacity":1},"encoding":{"x":{"field":"group","type":"nominal","sort":["NS","CSD","CSDR","CSDVD"],"scale":{"type":"band","paddingInner":0.34,"paddingOuter":0.17},"title":null},"xOffset":{"field":"rep","type":"ordinal","scale":{"domain":[1,2,3,4,5,6],"range":[9,30]}},"y":{"field":"value","type":"quantitative","axis":{"values":[0,1,2,3]},"title":"Relative expression"},"shape":{"field":"group","type":"nominal","scale":{"domain":["NS","CSD","CSDR","CSDVD"],"range":["circle","square","triangle-up","triangle-down"]},"legend":null}}},
{"data":{"name":"points"},"transform":[{"filter":"datum.gene === 'Per2'"},{"aggregate":[{"op":"max","field":"value","as":"ymax"}],"groupby":["gene","group"]},{"calculate":"datum.gene + '|' + datum.group","as":"key"},{"lookup":"key","from":{"data":{"name":"annot"},"key":"key","fields":["label"]}},{"filter":"isValid(datum.label)"}],"mark":{"type":"text","fontWeight":"bold","fontSize":13,"dy":-8,"baseline":"alphabetic","color":"black"},"encoding":{"x":{"field":"group","type":"nominal","sort":["NS","CSD","CSDR","CSDVD"],"scale":{"type":"band","paddingInner":0.34,"paddingOuter":0.17},"title":null},"y":{"field":"ymax","type":"quantitative","axis":{"values":[0,1,2,3]},"title":"Relative expression"},"text":{"field":"label","type":"nominal"}}}
]}]}
],
"config": {
"font": "Liberation Sans",
"background": "white",
"view": {"stroke": "black", "strokeWidth": 2},
"axis": {"grid": false, "domainColor": "black", "domainWidth": 2, "tickColor": "black", "tickWidth": 2, "tickSize": 5, "labelColor": "black", "labelFontWeight": "bold", "titleColor": "black"},
"axisY": {"labelFont": "Liberation Sans", "labelFontSize": 11, "titleFont": "Liberation Sans", "titleFontSize": 12, "titleFontWeight": "bold", "titlePadding": 10, "labelPadding": 2},
"axisX": {"labelFont": "Liberation Serif", "labelFontSize": 13, "labelAngle": 0, "tickSize": 4, "labelPadding": 3},
"title": {"color": "black", "font": "Liberation Sans"}
}
}
